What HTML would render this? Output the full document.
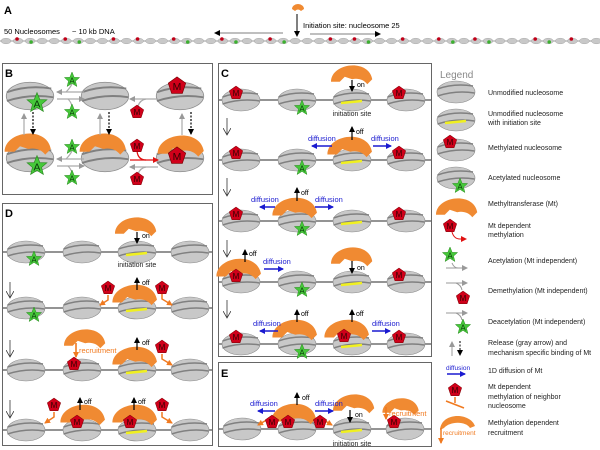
<!DOCTYPE html>
<html><head><meta charset="utf-8"><style>
html,body{margin:0;padding:0;background:#fff}
svg{display:block}
text{font-family:"Liberation Sans",sans-serif}
</style></head><body>
<svg id="s" width="600" height="450" viewBox="0 0 600 450" xmlns="http://www.w3.org/2000/svg">
<defs>
<g id="nuc"><ellipse rx="19" ry="11" fill="#c8c8c8" stroke="#8c8c8c" stroke-width=".6"/><path d="M-18.5,-3 Q-2,-9 17,-6" stroke="#808080" stroke-width="1.5" fill="none"/><path d="M-18.5,4 Q0,-2 18.5,1" stroke="#808080" stroke-width="1.5" fill="none"/></g>
<g id="nucy"><use href="#nuc"/><path d="M-11,3 L10,1" stroke="#f0f020" stroke-width="2.6"/></g>
<path id="mt" d="M-16,7 C-16,-8 14,-12 17,5 L13,9 C10,5 5,4 1,5 L-5,3 L-9,7 Z" fill="#f08a32"/>
<g id="pm"><polygon points="0,-7 6.7,-2.2 4.1,5.7 -4.1,5.7 -6.7,-2.2" fill="#d0001a" stroke="#700" stroke-width=".5"/><text x="0" y="3" font-size="8" text-anchor="middle" fill="#300">M</text></g>
<g id="sa"><polygon points="0,-8 2.2,-2.6 7.6,-2.5 3.5,1.1 4.9,6.5 0,3.4 -4.9,6.5 -3.5,1.1 -7.6,-2.5 -2.2,-2.6" fill="#46c83a" stroke="#2a8a20" stroke-width=".5"/><text x="0" y="3.5" font-size="8" text-anchor="middle" fill="#0a3a0a">A</text></g>
<marker id="ak" markerWidth="6" markerHeight="6" refX="5" refY="3" orient="auto" markerUnits="userSpaceOnUse"><path d="M0,0 L6,3 L0,6 Z" fill="#000"/></marker>
<marker id="ao" markerWidth="8" markerHeight="8" refX="7" refY="4" orient="auto" markerUnits="userSpaceOnUse"><path d="M0,0 L7,4 L0,8" fill="none" stroke="#333" stroke-width=".8"/></marker>
<marker id="ag" markerWidth="6" markerHeight="6" refX="5" refY="3" orient="auto" markerUnits="userSpaceOnUse"><path d="M0,0 L6,3 L0,6 Z" fill="#999"/></marker>
<marker id="ab" markerWidth="6" markerHeight="6" refX="5" refY="3" orient="auto" markerUnits="userSpaceOnUse"><path d="M0,0 L6,3 L0,6 Z" fill="#1a1ad0"/></marker>
<marker id="ar" markerWidth="6" markerHeight="6" refX="5" refY="3" orient="auto" markerUnits="userSpaceOnUse"><path d="M0,0 L6,3 L0,6 Z" fill="#e01010"/></marker>
<marker id="aor" markerWidth="6" markerHeight="6" refX="5" refY="3" orient="auto" markerUnits="userSpaceOnUse"><path d="M0,0 L6,3 L0,6 Z" fill="#f07a20"/></marker>
</defs>
<g font-size="8" fill="#000">
<text x="4" y="14" font-size="11" font-weight="bold">A</text>
<text x="4" y="34" font-size="7.5">50 Nucleosomes</text>
<text x="72" y="34" font-size="7.5">~ 10 kb DNA</text>
<text x="303" y="28" font-size="7.5">Initiation site: nucleosome 25</text>
<path d="M292,9 A6,5 0 0 1 304,9 L301,11 Q298,8 295,11 Z" fill="#f08a32"/>
<line x1="297" y1="14" x2="297" y2="36" stroke="#000" stroke-width="1" marker-end="url(#ak)"/>
<line x1="283" y1="33" x2="215" y2="33" stroke="#555" stroke-width=".8" marker-end="url(#ak)"/>
<line x1="310" y1="34" x2="380" y2="34" stroke="#555" stroke-width=".8" marker-end="url(#ak)"/>
<line x1="0" y1="41" x2="600" y2="41" stroke="#999" stroke-width="1"/>
<g id="arow"></g>

<rect x="2.5" y="63.5" width="210" height="131" fill="none" stroke="#666"/>
<rect x="218.5" y="63.5" width="213" height="293" fill="none" stroke="#666"/>
<rect x="2.5" y="203.5" width="210" height="242" fill="none" stroke="#666"/>
<rect x="218.5" y="362.5" width="213" height="84" fill="none" stroke="#666"/>

<text x="5" y="77" font-size="11" font-weight="bold">B</text>
<g transform="translate(30,96) scale(1.25)"><use href="#nuc"/></g>
<g transform="translate(105,96) scale(1.25)"><use href="#nuc"/></g>
<g transform="translate(180,96) scale(1.25)"><use href="#nuc"/></g>
<g transform="translate(37,103) scale(1.3)"><use href="#sa"/></g>
<g transform="translate(177,86) scale(1.3)"><use href="#pm"/></g>
<g transform="translate(30,158) scale(1.25)"><use href="#nuc"/></g>
<g transform="translate(105,158) scale(1.25)"><use href="#nuc"/></g>
<g transform="translate(180,158) scale(1.25)"><use href="#nuc"/></g>
<g transform="translate(27,142) scale(1.4)"><use href="#mt"/></g>
<g transform="translate(102,142) scale(1.4)"><use href="#mt"/></g>
<g transform="translate(180,144) scale(1.4)"><use href="#mt"/></g>
<g transform="translate(37,166) scale(1.3)"><use href="#sa"/></g>
<g transform="translate(177,156) scale(1.3)"><use href="#pm"/></g>
<g stroke-width="1.2">
<line x1="24" y1="135" x2="24" y2="114" stroke="#aaa" marker-end="url(#ag)"/>
<line x1="33" y1="112" x2="33" y2="134" stroke="#000" stroke-dasharray="2,1.5" marker-end="url(#ak)"/>
<line x1="100" y1="135" x2="100" y2="114" stroke="#aaa" marker-end="url(#ag)"/>
<line x1="109" y1="112" x2="109" y2="134" stroke="#000" stroke-dasharray="2,1.5" marker-end="url(#ak)"/>
<line x1="182" y1="135" x2="182" y2="114" stroke="#aaa" marker-end="url(#ag)"/>
<line x1="191" y1="112" x2="191" y2="134" stroke="#000" stroke-dasharray="2,1.5" marker-end="url(#ak)"/>
<line x1="84" y1="92" x2="57" y2="92" stroke="#aaa" marker-end="url(#ag)"/>
<path d="M57,99 L84,99" stroke="#aaa" fill="none" marker-end="url(#ag)"/>
<path d="M66,92 Q70,88 72,84" stroke="#aaa" fill="none"/>
<path d="M68,99 Q71,102 72,106" stroke="#aaa" fill="none"/>
<line x1="84" y1="159" x2="57" y2="159" stroke="#aaa" marker-end="url(#ag)"/>
<path d="M57,166 L84,166" stroke="#aaa" fill="none" marker-end="url(#ag)"/>
<path d="M66,159 Q70,155 72,151" stroke="#aaa" fill="none"/>
<path d="M68,166 Q71,169 72,173" stroke="#aaa" fill="none"/>
<line x1="158" y1="99" x2="130" y2="99" stroke="#aaa" marker-end="url(#ag)"/>
<path d="M146,99 Q140,100 138,106" stroke="#aaa" fill="none"/>
<line x1="130" y1="160" x2="158" y2="160" stroke="#e01010" marker-end="url(#ar)"/>
<path d="M137,151 Q138,160 146,160" stroke="#e01010" fill="none"/>
<line x1="158" y1="167" x2="130" y2="167" stroke="#aaa" marker-end="url(#ag)"/>
<path d="M146,167 Q140,168 138,174" stroke="#aaa" fill="none"/>
</g>
<use href="#sa" x="72" y="80"/><use href="#sa" x="72" y="112"/>
<use href="#sa" x="72" y="147"/><use href="#sa" x="72" y="178"/>
<use href="#pm" x="137" y="112"/><use href="#pm" x="137" y="146"/><use href="#pm" x="137" y="179"/>

<text x="221" y="77" font-size="11" font-weight="bold">C</text>
<g stroke="#707070" stroke-width="1.6">
<line x1="219" y1="100" x2="431" y2="100"/><line x1="219" y1="160" x2="431" y2="160"/>
<line x1="219" y1="221" x2="431" y2="221"/><line x1="219" y1="282" x2="431" y2="282"/>
<line x1="219" y1="344" x2="431" y2="344"/>
</g>
<g id="crow">
<use href="#nuc" x="241" y="100"/><use href="#nuc" x="297" y="100"/><use href="#nucy" x="352" y="100"/><use href="#nuc" x="406" y="100"/>
</g>
<use href="#crow" y="60"/><use href="#crow" y="121"/><use href="#crow" y="182"/><use href="#crow" y="244"/>
<use href="#pm" x="236" y="93"/><use href="#pm" x="399" y="93"/><use href="#sa" x="302" y="108"/>
<use href="#pm" x="236" y="153"/><use href="#pm" x="399" y="153"/><use href="#sa" x="302" y="168"/>
<use href="#pm" x="236" y="214"/><use href="#pm" x="399" y="214"/><use href="#sa" x="302" y="229"/>
<use href="#sa" x="302" y="290"/><use href="#pm" x="399" y="275"/>
<use href="#sa" x="302" y="352"/><use href="#pm" x="399" y="337"/><use href="#pm" x="236" y="337"/>
<g transform="translate(351,73)"><use href="#mt" transform="scale(1.25)"/></g>
<g transform="translate(349,145)"><use href="#mt" transform="scale(1.35)"/></g>
<g transform="translate(294,206)"><use href="#mt" transform="scale(1.35)"/></g>
<g transform="translate(238,267)"><use href="#mt" transform="scale(1.35)"/></g>
<use href="#pm" x="236" y="276"/>
<g transform="translate(351,255)"><use href="#mt" transform="scale(1.25)"/></g>
<g transform="translate(294,328)"><use href="#mt" transform="scale(1.35)"/></g>
<g transform="translate(346,328)"><use href="#mt" transform="scale(1.35)"/></g>
<use href="#pm" x="344" y="336"/>
<text x="352" y="116" font-size="7" text-anchor="middle" fill="#222">initiation site</text>
<g stroke="#000" stroke-width="1.2">
<line x1="352" y1="80" x2="352" y2="91" marker-end="url(#ak)"/>
<line x1="352" y1="140" x2="352" y2="127" marker-end="url(#ak)"/>
<line x1="297" y1="201" x2="297" y2="188" marker-end="url(#ak)"/>
<line x1="245" y1="262" x2="245" y2="250" marker-end="url(#ak)"/>
<line x1="352" y1="261" x2="352" y2="273" marker-end="url(#ak)"/>
<line x1="297" y1="322" x2="297" y2="310" marker-end="url(#ak)"/>
<line x1="352" y1="322" x2="352" y2="310" marker-end="url(#ak)"/>
</g>
<g font-size="7"><text x="357" y="87">on</text><text x="356" y="134">off</text><text x="301" y="195">off</text><text x="249" y="256">off</text><text x="357" y="270">on</text><text x="301" y="316">off</text><text x="356" y="316">off</text></g>
<g stroke="#333" stroke-width=".8">
<line x1="227" y1="118" x2="227" y2="135" marker-end="url(#ao)"/>
<line x1="227" y1="178" x2="227" y2="196" marker-end="url(#ao)"/>
<line x1="227" y1="240" x2="227" y2="257" marker-end="url(#ao)"/>
<line x1="227" y1="300" x2="227" y2="318" marker-end="url(#ao)"/>
</g>
<g fill="#1a1ad0" font-size="7.5">
<text x="308" y="141">diffusion</text><text x="371" y="141">diffusion</text>
<text x="251" y="202">diffusion</text><text x="315" y="202">diffusion</text>
<text x="263" y="264">diffusion</text>
<text x="253" y="326">diffusion</text><text x="372" y="326">diffusion</text>
</g>
<g stroke="#1a1ad0" stroke-width="1.5">
<line x1="332" y1="146" x2="312" y2="146" marker-end="url(#ab)"/><line x1="373" y1="146" x2="391" y2="146" marker-end="url(#ab)"/>
<line x1="275" y1="207" x2="260" y2="207" marker-end="url(#ab)"/><line x1="315" y1="207" x2="333" y2="207" marker-end="url(#ab)"/>
<line x1="264" y1="269" x2="283" y2="269" marker-end="url(#ab)"/>
<line x1="278" y1="331" x2="260" y2="331" marker-end="url(#ab)"/><line x1="372" y1="331" x2="390" y2="331" marker-end="url(#ab)"/>
</g>

<text x="440" y="78" font-size="10" fill="#888">Legend</text>
<g font-size="7" fill="#222">
<text x="488" y="95">Unmodified nucleosome</text>
<text x="488" y="116">Unmodified nucleosome</text><text x="488" y="125">with initiation site</text>
<text x="488" y="150">Methylated nucleosome</text>
<text x="488" y="180">Acetylated nucleosome</text>
<text x="488" y="206">Methyltransferase (Mt)</text>
<text x="488" y="228">Mt dependent</text><text x="488" y="237">methylation</text>
<text x="488" y="263">Acetylation (Mt independent)</text>
<text x="488" y="293">Demethylation (Mt independent)</text>
<text x="488" y="324">Deacetylation (Mt independent)</text>
<text x="488" y="345">Release (gray arrow) and</text><text x="488" y="355">mechanism specific binding of Mt</text>
<text x="488" y="373">1D diffusion of Mt</text>
<text x="488" y="389">Mt dependent</text><text x="488" y="399">methylation of neighbor</text><text x="488" y="408">nucleosome</text>
<text x="488" y="425">Methylation dependent</text><text x="488" y="435">recruitment</text>
</g>
<use href="#nuc" x="456" y="92"/>
<use href="#nucy" x="456" y="120"/>
<use href="#nuc" x="456" y="150"/><use href="#pm" x="450" y="142"/>
<use href="#nuc" x="456" y="178"/><use href="#sa" x="460" y="186"/>
<g transform="translate(456,206)"><use href="#mt" transform="scale(1.25)"/></g>
<use href="#pm" x="450" y="226"/>
<path d="M452,232 Q454,239 460,239 L466,239" stroke="#e01010" stroke-width="1" fill="none" marker-end="url(#ar)"/>
<use href="#sa" x="450" y="255"/>
<path d="M446,268 L467,268" stroke="#999" stroke-width="1" marker-end="url(#ag)"/><path d="M452,263 Q454,268 458,268" stroke="#999" fill="none"/>
<path d="M446,283 L467,283" stroke="#999" stroke-width="1" marker-end="url(#ag)"/><path d="M456,283 Q461,285 462,290" stroke="#999" fill="none"/>
<use href="#pm" x="463" y="298"/>
<path d="M446,313 L467,313" stroke="#999" stroke-width="1" marker-end="url(#ag)"/><path d="M456,313 Q461,315 462,320" stroke="#999" fill="none"/>
<use href="#sa" x="463" y="327"/>
<line x1="452" y1="356" x2="452" y2="342" stroke="#999" stroke-width="1" marker-end="url(#ag)"/>
<line x1="460" y1="341" x2="460" y2="355" stroke="#000" stroke-width="1" stroke-dasharray="2,1.5" marker-end="url(#ak)"/>
<text x="446" y="370" font-size="6.5" fill="#1a1ad0">diffusion</text>
<line x1="447" y1="374" x2="465" y2="374" stroke="#1a1ad0" stroke-width="1.5" marker-end="url(#ab)"/>
<use href="#pm" x="455" y="390"/>
<path d="M455,397 L455,403 M446,401 L464,408" stroke="#f07a20" stroke-width="1.5" fill="none"/>
<path d="M440,430 C441,412 470,412 475,426 L470,428 C466,421 450,421 444,428 Z" fill="#f08a32"/>
<line x1="441" y1="428" x2="441" y2="443" stroke="#f07a20" stroke-width="1.5" marker-end="url(#aor)"/>
<text x="443" y="435" font-size="6.5" fill="#f07a20">recruitment</text>

<text x="5" y="217" font-size="11" font-weight="bold">D</text>
<g stroke="#707070" stroke-width="1.6">
<line x1="3" y1="252" x2="212" y2="252"/><line x1="3" y1="308" x2="212" y2="308"/>
<line x1="3" y1="370" x2="212" y2="370"/><line x1="3" y1="430" x2="212" y2="430"/>
</g>
<g id="drow"><use href="#nuc" x="26" y="252"/><use href="#nuc" x="82" y="252"/><use href="#nucy" x="137" y="252"/><use href="#nuc" x="190" y="252"/></g>
<use href="#drow" y="56"/><use href="#drow" y="118"/><use href="#drow" y="178"/>
<use href="#sa" x="34" y="259"/><use href="#sa" x="34" y="315"/>
<text x="137" y="267" font-size="7" text-anchor="middle" fill="#222">initiation site</text>
<g transform="translate(135,225)"><use href="#mt" transform="scale(1.25)"/></g>
<g transform="translate(134,293)"><use href="#mt" transform="scale(1.35)"/></g>
<g transform="translate(84,337)"><use href="#mt" transform="scale(1.25)"/></g>
<g transform="translate(134,355)"><use href="#mt" transform="scale(1.35)"/></g>
<g transform="translate(82,413)"><use href="#mt" transform="scale(1.35)"/></g>
<g transform="translate(134,413)"><use href="#mt" transform="scale(1.35)"/></g>
<use href="#pm" x="74" y="364"/><use href="#pm" x="77" y="422"/><use href="#pm" x="130" y="422"/>
<g stroke="#000" stroke-width="1.2">
<line x1="137" y1="232" x2="137" y2="243" marker-end="url(#ak)"/>
<line x1="137" y1="290" x2="137" y2="278" marker-end="url(#ak)"/>
<line x1="137" y1="350" x2="137" y2="338" marker-end="url(#ak)"/>
<line x1="80" y1="410" x2="80" y2="398" marker-end="url(#ak)"/>
<line x1="134" y1="410" x2="134" y2="398" marker-end="url(#ak)"/>
</g>
<g font-size="7"><text x="142" y="238">on</text><text x="142" y="285">off</text><text x="142" y="345">off</text><text x="84" y="404">off</text><text x="138" y="404">off</text></g>
<g stroke="#333" stroke-width=".8">
<line x1="10" y1="282" x2="10" y2="298" marker-end="url(#ao)"/>
<line x1="10" y1="340" x2="10" y2="357" marker-end="url(#ao)"/>
<line x1="10" y1="400" x2="10" y2="418" marker-end="url(#ao)"/>
</g>
<line x1="76" y1="343" x2="76" y2="357" stroke="#f07a20" stroke-width="1.6" marker-end="url(#aor)"/>
<text x="79" y="353" font-size="7.5" fill="#f07a20">recruitment</text>
<g stroke="#f07a20" stroke-width="1.5" fill="none">
<path d="M108,295 L108,300 L100,305" marker-end="url(#aor)"/><path d="M162,294 L162,299 L172,305" marker-end="url(#aor)"/>
<path d="M162,354 L162,359 L172,365" marker-end="url(#aor)"/>
<path d="M54,412 L54,417 L45,423" marker-end="url(#aor)"/><path d="M162,412 L162,417 L172,423" marker-end="url(#aor)"/>
</g>
<use href="#pm" x="108" y="288"/><use href="#pm" x="162" y="288"/><use href="#pm" x="162" y="347"/>
<use href="#pm" x="54" y="405"/><use href="#pm" x="162" y="405"/>

<text x="221" y="377" font-size="11" font-weight="bold">E</text>
<line x1="219" y1="429" x2="431" y2="429" stroke="#707070" stroke-width="1.6"/>
<use href="#nuc" x="242" y="429"/><use href="#nuc" x="297" y="429"/><use href="#nucy" x="352" y="429"/><use href="#nuc" x="405" y="429"/>
<g transform="translate(293,412)"><use href="#mt" transform="scale(1.35)"/></g>
<use href="#pm" x="288" y="422"/>
<g transform="translate(353,402)"><use href="#mt" transform="scale(1.25)"/></g>
<g transform="translate(400,405)"><use href="#mt" transform="scale(1.1)"/></g>
<use href="#pm" x="394" y="422"/>
<line x1="297" y1="405" x2="297" y2="393" stroke="#000" stroke-width="1.2" marker-end="url(#ak)"/>
<text x="302" y="400" font-size="7">off</text>
<line x1="350" y1="410" x2="350" y2="422" stroke="#000" stroke-width="1.2" marker-end="url(#ak)"/>
<text x="355" y="417" font-size="7">on</text>
<text x="352" y="446" font-size="7" text-anchor="middle" fill="#222">initiation site</text>
<g fill="#1a1ad0" font-size="7.5"><text x="250" y="406">diffusion</text><text x="315" y="406">diffusion</text></g>
<g stroke="#1a1ad0" stroke-width="1.5"><line x1="275" y1="411" x2="258" y2="411" marker-end="url(#ab)"/><line x1="315" y1="411" x2="333" y2="411" marker-end="url(#ab)"/></g>
<g stroke="#f07a20" stroke-width="1.5" fill="none"><path d="M270,418 L258,425" marker-end="url(#aor)"/><path d="M320,418 L332,425" marker-end="url(#aor)"/></g>
<use href="#pm" x="272" y="422"/><use href="#pm" x="320" y="422"/>
<line x1="386" y1="407" x2="386" y2="419" stroke="#f07a20" stroke-width="1.6" marker-end="url(#aor)"/>
<text x="389" y="416" font-size="7.5" fill="#f07a20">recruitment</text>
</g>
<script>
(function(){var g=document.getElementById('arow'),ns='http://www.w3.org/2000/svg';
var p='nrgnnrgnnrnrnnrgnnrgnnrgnnnrnrgnnrnnrgnrgnnnrgnrnn';
for(var i=0;i<50;i++){var x=6+i*12.05;var e=document.createElementNS(ns,'ellipse');e.setAttribute('cx',x);e.setAttribute('cy',41);e.setAttribute('rx',5);e.setAttribute('ry',2.8);e.setAttribute('fill','#c8c8c8');e.setAttribute('stroke','#999');e.setAttribute('stroke-width','.4');g.appendChild(e);
var c=p[i];if(c!='n'){var d=document.createElementNS(ns,'circle');d.setAttribute('cx',c=='r'?x-1:x+1);d.setAttribute('cy',c=='r'?39:42);d.setAttribute('r',1.8);d.setAttribute('fill',c=='r'?'#c00018':'#3cb030');g.appendChild(d);}}})();
</script>
</svg>
</body></html>
